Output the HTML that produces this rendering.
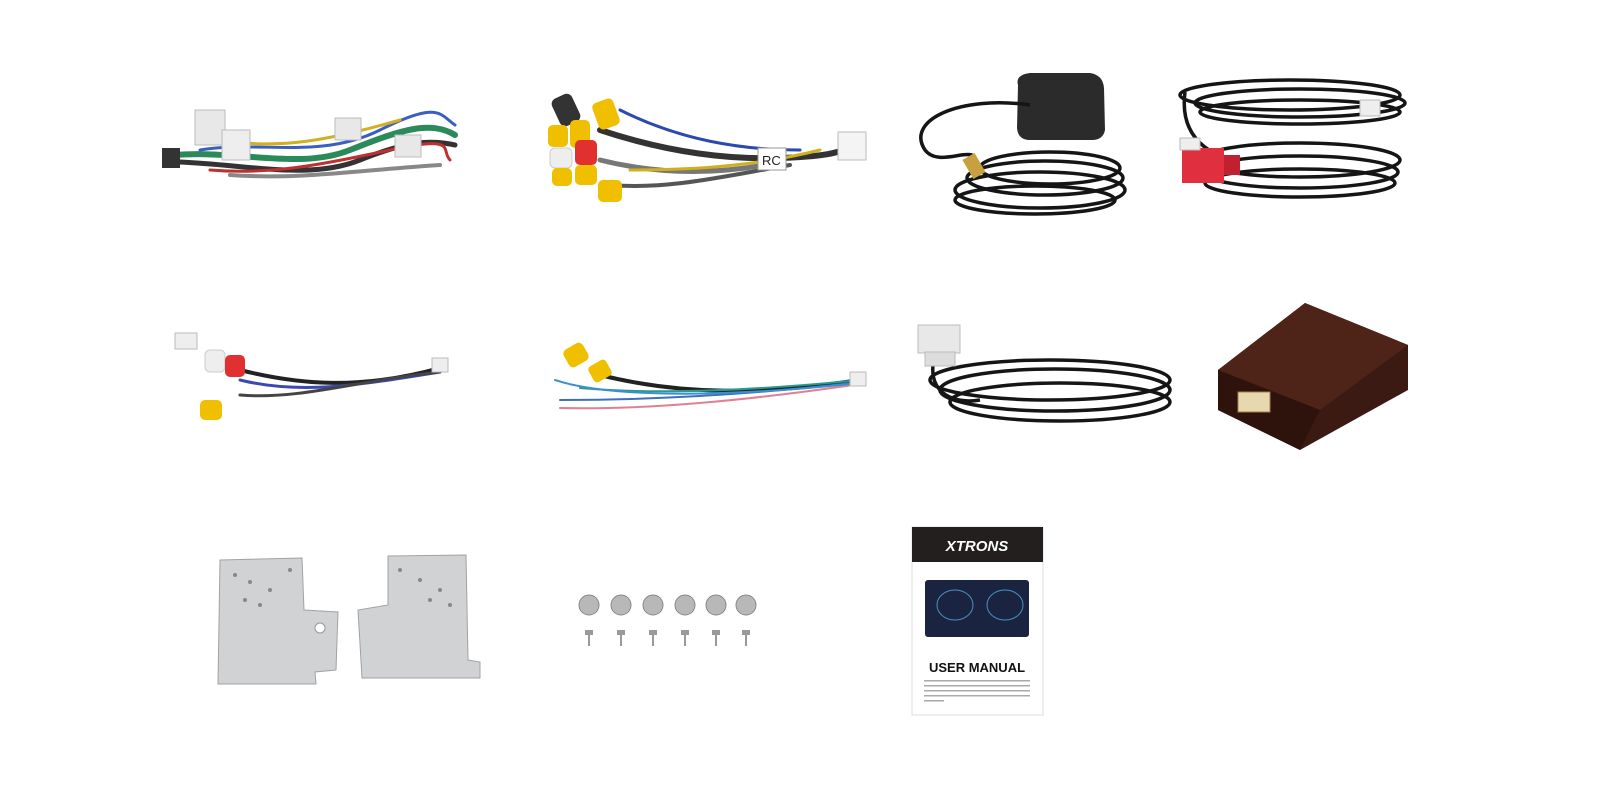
<!DOCTYPE html>
<html><head><meta charset="utf-8"><style>
html,body{margin:0;padding:0;background:#fff;width:1600px;height:800px;overflow:hidden}
svg{display:block}
text{font-family:"Liberation Sans",sans-serif}
</style></head><body>
<svg width="1600" height="800" viewBox="0 0 1600 800" xmlns="http://www.w3.org/2000/svg">
<rect width="1600" height="800" fill="#fff"/>
<!-- Row1: harness -->
<g fill="none" stroke-linecap="round">
<path d="M175 155 C240 150 300 170 350 150 S430 120 455 135" stroke="#2a8a5a" stroke-width="6"/>
<path d="M180 162 C250 165 310 180 360 160 S430 140 455 145" stroke="#333" stroke-width="5"/>
<path d="M200 150 C260 140 320 160 380 130 S440 115 455 125" stroke="#3a5fc0" stroke-width="3"/>
<path d="M210 170 C270 175 320 165 390 150 S440 150 450 160" stroke="#c03030" stroke-width="3"/>
<path d="M220 140 C280 150 330 140 400 120" stroke="#d0b020" stroke-width="3"/>
<path d="M230 175 C300 180 360 170 440 165" stroke="#888" stroke-width="4"/>
</g>
<rect x="195" y="110" width="30" height="35" fill="#e8e8e8" stroke="#bbb"/>
<rect x="222" y="130" width="28" height="30" fill="#eee" stroke="#bbb"/>
<rect x="335" y="118" width="26" height="22" fill="#e8e8e8" stroke="#bbb"/>
<rect x="395" y="135" width="26" height="22" fill="#e8e8e8" stroke="#bbb"/>
<rect x="162" y="148" width="18" height="20" fill="#333"/>
<!-- RCA cable -->
<g fill="none" stroke-linecap="round">
<path d="M600 130 C660 150 720 160 780 158 S840 150 860 145" stroke="#333" stroke-width="6"/>
<path d="M600 160 C660 175 720 175 780 162" stroke="#777" stroke-width="5"/>
<path d="M610 185 C670 190 730 175 790 165" stroke="#555" stroke-width="4"/>
<path d="M620 110 C680 140 740 150 800 150" stroke="#2a4ab0" stroke-width="3"/>
<path d="M630 170 C700 170 760 165 820 150" stroke="#d0b020" stroke-width="3"/>
</g>
<g>
<rect x="555" y="95" width="22" height="30" rx="6" fill="#333" transform="rotate(-25 566 110)"/>
<rect x="595" y="100" width="22" height="28" rx="5" fill="#f0c000" transform="rotate(-20 606 114)"/>
<rect x="548" y="125" width="20" height="22" rx="5" fill="#f0c000"/>
<rect x="570" y="120" width="20" height="28" rx="5" fill="#f0c000"/>
<rect x="550" y="148" width="22" height="20" rx="5" fill="#eee" stroke="#ccc"/>
<rect x="575" y="140" width="22" height="25" rx="5" fill="#e03030"/>
<rect x="552" y="168" width="20" height="18" rx="5" fill="#f0c000"/>
<rect x="575" y="165" width="22" height="20" rx="5" fill="#f0c000"/>
<rect x="598" y="180" width="24" height="22" rx="5" fill="#f0c000"/>
<rect x="758" y="148" width="28" height="22" fill="#fff" stroke="#999"/>
<text x="762" y="165" font-size="13" fill="#222">RC</text>
<rect x="838" y="132" width="28" height="28" fill="#f4f4f4" stroke="#bbb"/>
</g>
<!-- GPS -->
<path d="M1018 85 Q1015 75 1030 73 L1090 73 Q1103 75 1104 88 L1105 130 Q1103 140 1092 140 L1030 140 Q1018 140 1017 128 Z" fill="#2b2b2b"/>
<g fill="none" stroke="#151515" stroke-width="3.5">
<path d="M1030 105 C960 95 905 120 925 150 C940 170 980 140 975 165"/>
<ellipse cx="1050" cy="168" rx="70" ry="16"/>
<ellipse cx="1045" cy="178" rx="78" ry="17"/>
<ellipse cx="1040" cy="190" rx="85" ry="18"/>
<ellipse cx="1035" cy="200" rx="80" ry="14"/>
</g>
<rect x="967" y="155" width="14" height="22" fill="#c8a040" transform="rotate(-30 974 166)"/>
<!-- cable red connector -->
<g fill="none" stroke="#151515" stroke-width="3.5">
<ellipse cx="1290" cy="95" rx="110" ry="15"/>
<ellipse cx="1300" cy="103" rx="105" ry="14"/>
<ellipse cx="1300" cy="112" rx="100" ry="12"/>
<ellipse cx="1300" cy="160" rx="100" ry="17"/>
<ellipse cx="1300" cy="172" rx="98" ry="16"/>
<ellipse cx="1300" cy="183" rx="95" ry="14"/>
<path d="M1185 92 C1180 130 1200 150 1230 160"/>
</g>
<rect x="1182" y="148" width="42" height="35" fill="#e03040"/>
<rect x="1224" y="155" width="16" height="20" fill="#c02030"/>
<rect x="1180" y="138" width="20" height="12" fill="#eee" stroke="#bbb"/>
<rect x="1360" y="100" width="20" height="16" fill="#eee" stroke="#bbb"/>
<!-- Row2 small harness -->
<g fill="none" stroke-linecap="round">
<path d="M240 370 C300 385 360 390 440 368" stroke="#222" stroke-width="4"/>
<path d="M240 380 C300 395 360 385 440 372" stroke="#3a4ab0" stroke-width="3"/>
<path d="M240 395 C300 400 360 380 440 372" stroke="#444" stroke-width="3"/>
</g>
<rect x="175" y="333" width="22" height="16" fill="#eee" stroke="#bbb"/>
<rect x="205" y="350" width="20" height="22" rx="5" fill="#eee" stroke="#ccc"/>
<rect x="225" y="355" width="20" height="22" rx="5" fill="#e03030"/>
<rect x="200" y="400" width="22" height="20" rx="5" fill="#f0c000"/>
<rect x="432" y="358" width="16" height="14" fill="#eee" stroke="#bbb"/>
<!-- camera cable -->
<g fill="none" stroke-linecap="round">
<path d="M600 375 C680 395 760 395 860 380" stroke="#222" stroke-width="4"/>
<path d="M560 400 C650 400 750 395 860 382" stroke="#3a70c0" stroke-width="2"/>
<path d="M560 408 C650 410 750 400 860 384" stroke="#e08090" stroke-width="2"/>
<path d="M580 388 C660 395 760 390 860 380" stroke="#2a9a8a" stroke-width="2"/>
<path d="M555 380 C600 395 700 400 860 383" stroke="#3a90d0" stroke-width="2"/>
</g>
<rect x="565" y="345" width="22" height="20" rx="5" fill="#f0c000" transform="rotate(-30 576 355)"/>
<rect x="590" y="362" width="20" height="18" rx="4" fill="#f0c000" transform="rotate(-30 600 371)"/>
<rect x="850" y="372" width="16" height="14" fill="#eee" stroke="#bbb"/>
<!-- cable white connector -->
<g fill="none" stroke="#151515" stroke-width="3.5">
<ellipse cx="1050" cy="380" rx="120" ry="20"/>
<ellipse cx="1055" cy="390" rx="115" ry="21"/>
<ellipse cx="1060" cy="402" rx="110" ry="19"/>
<path d="M935 355 C925 390 950 405 980 400"/>
</g>
<rect x="918" y="325" width="42" height="28" fill="#e8e8e8" stroke="#bbb"/>
<rect x="925" y="352" width="30" height="14" fill="#ddd" stroke="#bbb"/>
<!-- brown box -->
<polygon points="1218,370 1305,303 1408,345 1408,390 1300,450 1218,410" fill="#3a1a12"/>
<polygon points="1218,370 1305,303 1408,345 1320,410" fill="#4f2418"/>
<polygon points="1218,370 1320,410 1300,450 1218,410" fill="#2e130c"/>
<rect x="1238" y="392" width="32" height="20" fill="#e8d8b0" stroke="#a08050"/>
<!-- brackets -->
<polygon points="220,560 302,558 304,610 338,612 336,670 315,672 316,684 218,684" fill="#d0d2d4" stroke="#a0a2a4"/>
<polygon points="388,556 466,555 468,660 480,662 480,678 362,678 358,610 388,605" fill="#d0d2d4" stroke="#a0a2a4"/>
<g fill="#888"><circle cx="235" cy="575" r="2"/><circle cx="250" cy="582" r="2"/><circle cx="270" cy="590" r="2"/><circle cx="245" cy="600" r="2"/><circle cx="260" cy="605" r="2"/><circle cx="290" cy="570" r="2"/><circle cx="420" cy="580" r="2"/><circle cx="440" cy="590" r="2"/><circle cx="430" cy="600" r="2"/><circle cx="450" cy="605" r="2"/><circle cx="400" cy="570" r="2"/></g>
<circle cx="320" cy="628" r="5" fill="#fff" stroke="#999"/>
<!-- screws -->
<g>
<g fill="#b8b8b8" stroke="#888">
<circle cx="589" cy="605" r="10"/><circle cx="621" cy="605" r="10"/><circle cx="653" cy="605" r="10"/><circle cx="685" cy="605" r="10"/><circle cx="716" cy="605" r="10"/><circle cx="746" cy="605" r="10"/>
</g>
<g fill="#999"><rect x="585" y="630" width="8" height="5"/><rect x="617" y="630" width="8" height="5"/><rect x="649" y="630" width="8" height="5"/><rect x="681" y="630" width="8" height="5"/><rect x="712" y="630" width="8" height="5"/><rect x="742" y="630" width="8" height="5"/></g>
<g stroke="#999" stroke-width="2"><line x1="589" y1="635" x2="589" y2="646"/><line x1="621" y1="635" x2="621" y2="646"/><line x1="653" y1="635" x2="653" y2="646"/><line x1="685" y1="635" x2="685" y2="646"/><line x1="716" y1="635" x2="716" y2="646"/><line x1="746" y1="635" x2="746" y2="646"/></g>
</g>
<!-- manual -->
<rect x="912" y="527" width="131" height="188" fill="#fff" stroke="#ddd"/>
<rect x="912" y="527" width="131" height="35" fill="#231f1e"/>
<text x="977" y="551" font-size="15" font-weight="bold" font-style="italic" fill="#fff" text-anchor="middle">XTRONS</text>
<rect x="925" y="580" width="104" height="57" rx="3" fill="#1a2440"/>
<ellipse cx="955" cy="605" rx="18" ry="15" fill="none" stroke="#4a90c0"/>
<ellipse cx="1005" cy="605" rx="18" ry="15" fill="none" stroke="#4a90c0"/>
<text x="977" y="672" font-size="13" font-weight="bold" fill="#111" text-anchor="middle">USER MANUAL</text>
<g fill="#aaa"><rect x="924" y="680" width="106" height="1.5"/><rect x="924" y="685" width="106" height="1.5"/><rect x="924" y="690" width="106" height="1.5"/><rect x="924" y="695" width="106" height="1.5"/><rect x="924" y="700" width="20" height="1.5"/></g>
</svg>
</body></html>
